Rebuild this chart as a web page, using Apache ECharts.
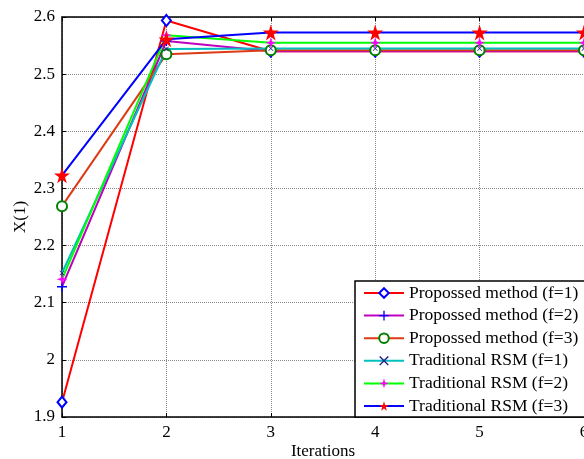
<!DOCTYPE html>
<html>
<head>
<meta charset="utf-8">
<script src="https://cdn.jsdelivr.net/npm/echarts@6/dist/echarts.min.js"></script>
<style>
  html, body { margin: 0; padding: 0; background: #fff; }
  #chart { width: 584px; height: 459px; }
</style>
</head>
<body>
<div id="chart"></div>
<script>
var iterations = [1, 2, 3, 4, 5, 6];
var yTicks = { min: 1.9, max: 2.6, step: 0.1 };

var proposedF1 = [1.926, 2.594, 2.540, 2.540, 2.540, 2.540];
var proposedF2 = [2.128, 2.558, 2.540, 2.540, 2.540, 2.540];
var proposedF3 = [2.269, 2.535, 2.542, 2.542, 2.542, 2.542];
var traditionalF1 = [2.152, 2.544, 2.545, 2.545, 2.545, 2.545];
var traditionalF2 = [2.141, 2.568, 2.555, 2.555, 2.555, 2.555];
var traditionalF3 = [2.323, 2.561, 2.573, 2.573, 2.573, 2.573];

var seriesNames = [
    'Propossed method (f=1)',
    'Propossed method (f=2)',
    'Propossed method (f=3)',
    'Traditional RSM (f=1)',
    'Traditional RSM (f=2)',
    'Traditional RSM (f=3)'
];

var fontFamily = '"Liberation Serif", "Times New Roman", serif';

// marker shapes (MATLAB style)
var plusPath = 'path://M4.3,0h1.4v4.3h4.3v1.4h-4.3v4.3h-1.4v-4.3h-4.3v-1.4h4.3z';
var crossPath = 'path://M1,0L5,4L9,0L10,1L6,5L10,9L9,10L5,6L1,10L0,9L4,5L0,1z';
var starPath = 'path://M50,0L61,35L98,35L68,57L79,91L50,70L21,91L32,57L2,35L39,35z';
var asteriskPath = 'path://M5,0L6.2,3.8L10,5L6.2,6.2L5,10L3.8,6.2L0,5L3.8,3.8z';

var pairs = function (values) {
    return iterations.map(function (x, i) { return [x, values[i]]; });
};

var makeSeries = function (name, values, lineColor, symbol, symbolSize, markColor, empty) {
    return {
        name: name,
        type: 'line',
        data: pairs(values),
        symbol: symbol,
        symbolSize: symbolSize,
        showAllSymbol: true,
        lineStyle: { color: lineColor, width: 2 },
        itemStyle: empty ? { color: '#fff', borderColor: markColor, borderWidth: 2 } : { color: markColor, borderColor: markColor, borderWidth: 0 },
        emphasis: { disabled: true },
        animation: false
    };
};

var option = {
    backgroundColor: '#fff',
    animation: false,
    grid: { left: 62, right: 0, top: 17, bottom: 42, containLabel: false, outerBoundsMode: 'none' },
    legend: {
        left: 355,
        top: 281,
        width: 240,
        orient: 'vertical',
        backgroundColor: '#fff',
        borderColor: '#000',
        borderWidth: 1.5,
        padding: [3, 40, 2, 8],
        itemGap: 4.6,
        itemWidth: 40,
        itemHeight: 12,
        textStyle: { fontFamily: fontFamily, fontSize: 17.5, color: '#000', padding: [0, 0, 0, 0] },
        data: seriesNames
    },
    xAxis: [{
        type: 'value',
        min: 1,
        max: 6,
        interval: 1,
        name: 'Iterations',
        nameLocation: 'middle',
        nameGap: 26,
        nameMoveOverlap: false,
        nameTextStyle: { fontFamily: fontFamily, fontSize: 17, color: '#000' },
        axisLine: { lineStyle: { color: '#000', width: 1.5 } },
        axisTick: { inside: true, length: 4, lineStyle: { color: '#000' } },
        axisLabel: { fontFamily: fontFamily, fontSize: 17, color: '#000', margin: 7 },
        splitLine: { show: true, lineStyle: { color: '#888', type: 'dotted', width: 1 } }
    }, {
        type: 'value',
        position: 'top',
        min: 1,
        max: 6,
        interval: 1,
        axisLine: { show: true, onZero: false, lineStyle: { color: '#000', width: 1.5 } },
        axisTick: { inside: true, length: 4, lineStyle: { color: '#000' } },
        axisLabel: { show: false },
        splitLine: { show: false }
    }],
    yAxis: [{
        type: 'value',
        min: yTicks.min,
        max: yTicks.max,
        interval: yTicks.step,
        name: 'X(1)',
        nameLocation: 'middle',
        nameGap: 33,
        nameMoveOverlap: false,
        nameTextStyle: { fontFamily: fontFamily, fontSize: 17, color: '#000' },
        axisLine: { show: true, lineStyle: { color: '#000', width: 1.5 } },
        axisTick: { show: true, inside: true, length: 4, lineStyle: { color: '#000' } },
        axisLabel: { fontFamily: fontFamily, fontSize: 17, color: '#000', margin: 7 },
        splitLine: { show: true, lineStyle: { color: '#888', type: 'dotted', width: 1 } }
    }],
    series: [
        makeSeries(seriesNames[0], proposedF1, '#ff0000', 'diamond', [9, 11], '#0000ff', true),
        makeSeries(seriesNames[1], proposedF2, '#bf00bf', plusPath, 10, '#0000ff', false),
        makeSeries(seriesNames[2], proposedF3, '#dc3c14', 'circle', 10, '#008000', true),
        makeSeries(seriesNames[3], traditionalF1, '#00bfbf', crossPath, 5, '#1a1a8c', false),
        makeSeries(seriesNames[4], traditionalF2, '#00ff00', asteriskPath, 11, '#ff00ff', false),
        makeSeries(seriesNames[5], traditionalF3, '#0000ff', starPath, 16, '#ff0000', false)
    ]
};

var chart = echarts.init(document.getElementById('chart'), null, { renderer: 'canvas' });
chart.setOption(option);
</script>
</body>
</html>
